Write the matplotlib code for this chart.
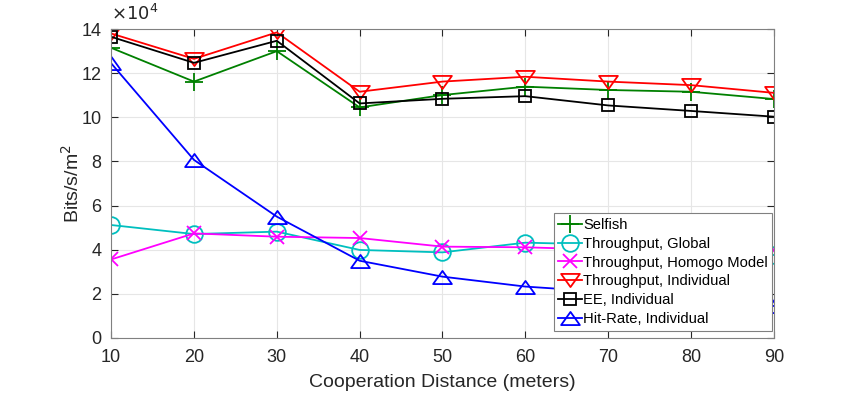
import numpy as np
import matplotlib.pyplot as plt
from matplotlib.path import Path

plt.rcParams['font.family'] = ['Liberation Sans', 'DejaVu Sans']

# data (units of 1e4 bits/s/m^2)
distance = [10, 20, 30, 40, 50, 60, 70, 80, 90]
selfish = [13.15, 11.62, 13.0, 10.45, 11.01, 11.39, 11.24, 11.16, 10.83]
tp_global = [5.12, 4.71, 4.82, 3.99, 3.88, 4.32, 4.23, 4.05, 3.76]
tp_homogo = [3.56, 4.74, 4.59, 4.53, 4.14, 4.11, 4.0, 3.97, 3.99]
tp_indiv = [13.8, 12.65, 13.85, 11.16, 11.62, 11.84, 11.62, 11.46, 11.11]
ee_indiv = [13.65, 12.47, 13.47, 10.63, 10.84, 10.96, 10.54, 10.29, 10.03]
hit_indiv = [12.45, 8.07, 5.5, 3.5, 2.78, 2.33, 2.08, 1.75, 1.45]

# MATLAB-like wide triangles
tri_down = Path([(0, -0.7), (-1, 0.7), (1, 0.7), (0, -0.7)], closed=True)
tri_up = Path([(0, 0.7), (-1, -0.7), (1, -0.7), (0, 0.7)], closed=True)

fig = plt.figure(figsize=(8.55, 3.93), dpi=100)
ax = fig.add_axes([0.130, 0.140, 0.775, 0.786])

lw = 1.3
ax.plot(distance, selfish, color='#008000', marker='+', ms=13, mew=1.3, lw=lw, label='Selfish')
ax.plot(distance, tp_global, color='#00BFBF', marker='o', ms=12, mfc='none', mew=1.3, lw=lw,
        label='Throughput, Global')
ax.plot(distance, tp_homogo, color='#FF00FF', marker='x', ms=10, mew=1.3, lw=lw,
        label='Throughput, Homogo Model')
ax.plot(distance, tp_indiv, color='#FF0000', marker=tri_down, ms=13.5, mfc='none', mew=1.3, lw=lw,
        label='Throughput, Individual')
ax.plot(distance, ee_indiv, color='#000000', marker='s', ms=8.6, mfc='none', mew=1.3, lw=lw,
        label='EE, Individual')
ax.plot(distance, hit_indiv, color='#0000FF', marker=tri_up, ms=13.5, mfc='none', mew=1.3, lw=lw,
        label='Hit-Rate, Individual')

ax.set_xlim(10, 90)
ax.set_ylim(0, 14)
ax.set_xticks(np.arange(10, 91, 10))
ax.set_yticks(np.arange(0, 15, 2))
ax.grid(True, color='#e6e6e6', lw=0.8)
ax.set_axisbelow(True)
ax.tick_params(direction='in', top=True, right=True, labelsize=13, colors='#262626', length=5)
ax.tick_params(axis='x', pad=8)
ax.tick_params(axis='y', pad=7)
for s in ax.spines.values():
    s.set_color('#808080')
    s.set_linewidth(0.8)

ax.set_xlabel('Cooperation Distance (meters)', fontsize=14, color='#262626', labelpad=6)
ax.set_ylabel('Bits/s/m$^2$', fontsize=14, color='#262626', labelpad=-1)
ax.text(0.0, 1.015, r'$\times10^4$', transform=ax.transAxes, fontsize=13, color='#262626',
        ha='left', va='bottom')

leg = ax.legend(loc='upper left', bbox_to_anchor=(0.668, 0.403), fontsize=10.6, frameon=True,
                fancybox=False, framealpha=1, edgecolor='#808080', borderpad=0.3,
                labelspacing=0.33, handlelength=1.6, handletextpad=0.1, borderaxespad=0)
leg.get_frame().set_linewidth(0.8)

plt.savefig('out.png', dpi=100)
